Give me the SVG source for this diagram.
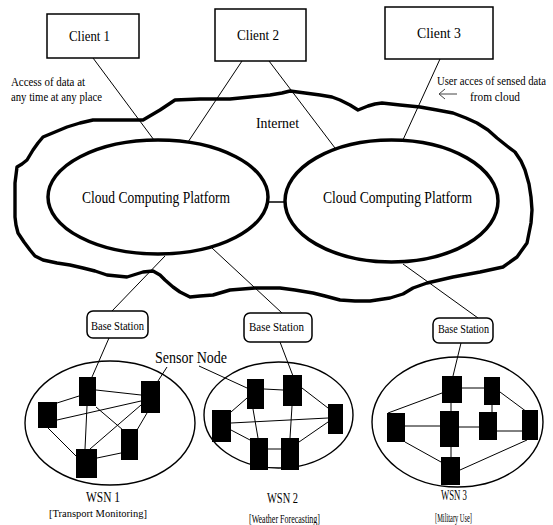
<svg xmlns="http://www.w3.org/2000/svg" width="553" height="525" viewBox="0 0 553 525">
<defs>
<style>
text{font-family:"Liberation Serif","Times New Roman",serif;fill:#000}
.box{fill:#fff;stroke:#000;stroke-width:1.5}
.bs{fill:#fff;stroke:#000;stroke-width:1.5}
.cloud{fill:none;stroke:#000;stroke-width:3.4;stroke-linejoin:round;stroke-linecap:round}
.plat{fill:none;stroke:#000;stroke-width:3.5}
.wsn{fill:none;stroke:#000;stroke-width:1.4}
.sensor{fill:#000}
.ln{stroke:#000;stroke-width:1;fill:none}
.net{stroke:#000;stroke-width:1.5;fill:none}
.arr{stroke:#444;stroke-width:1;fill:none}
</style>
</defs>
<rect width="553" height="525" fill="#fff"/>

<g id="internet-cloud">
<path class="cloud" d="M143,120 L160,110 L175,100 L200,99 L230,99 L250,97 L270,95 L282,93 L290,91 L305,93 L320,95 L332,97 L340,100 L350,105 L358,110 L363,108 L368,106 L375,104 L382,103 L400,105 L420,107 L437,110 L453,113 L466,118 L477,123 L488,130 L497,138 L507,146 L515,152 L521,161 L525,170 L529,184 L531,197 L532,210 L531,223 L527,243 L517,257 L503,267 L480,272 L453,277 L427,283 L413,288 L403,294 L390,298 L370,301 L355,301 L340,300 L325,296 L313,293 L295,290 L280,288 L255,288 L230,290 L213,295 L200,296 L190,297 L180,292 L173,287 L165,280 L160,275 L153,271 L143,272 L127,277 L107,275 L95,271 L83,268 L70,265 L57,263 L43,260 L35,256 L30,250 L24,242 L18,233 L16,225 L15,217 L15,200 L15,183 L17,167 L22,164 L27,160 L30,155 L33,150 L38,143 L43,137 L55,132 L67,127 L80,123 L93,120 Z"/>
<text x="256" y="128" font-size="14" textLength="43" lengthAdjust="spacingAndGlyphs">Internet</text>
</g>

<g id="connectors">
<line class="ln" x1="93" y1="58" x2="154" y2="140"/>
<line class="ln" x1="242" y1="61" x2="188" y2="142"/>
<line class="ln" x1="269" y1="61" x2="335" y2="148"/>
<line class="ln" x1="440" y1="59" x2="402" y2="142"/>
<line class="net" x1="268" y1="202" x2="285" y2="202"/>
<line class="ln" x1="165" y1="256" x2="112" y2="311"/>
<line class="ln" x1="212" y1="248" x2="282" y2="313"/>
<line class="ln" x1="403" y1="264" x2="478" y2="318"/>
<line class="ln" x1="109" y1="338" x2="92" y2="377"/>
<line class="ln" x1="280" y1="342" x2="293" y2="376"/>
<line class="ln" x1="461" y1="343" x2="453" y2="376"/>
<line class="ln" x1="167" y1="367" x2="158" y2="381"/>
<line class="ln" x1="199" y1="366" x2="247" y2="388"/>
</g>

<g id="client1">
<rect class="box" x="47" y="14" width="92" height="44"/>
<text x="69" y="41" font-size="15" textLength="41" lengthAdjust="spacingAndGlyphs">Client 1</text>
</g>
<g id="client2">
<rect class="box" x="215" y="9" width="91" height="52"/>
<text x="237" y="39.5" font-size="15" textLength="42" lengthAdjust="spacingAndGlyphs">Client 2</text>
</g>
<g id="client3">
<rect class="box" x="385" y="7" width="108" height="52"/>
<text x="417" y="38" font-size="15" textLength="44" lengthAdjust="spacingAndGlyphs">Client 3</text>
</g>

<g id="note-left">
<text x="11" y="86" font-size="12" textLength="74" lengthAdjust="spacingAndGlyphs">Access of data at</text>
<text x="11" y="101" font-size="12" textLength="91" lengthAdjust="spacingAndGlyphs">any time at any place</text>
</g>
<g id="note-right">
<text x="437" y="85" font-size="11.5" textLength="109" lengthAdjust="spacingAndGlyphs">User acces of sensed data</text>
<text x="470" y="101" font-size="12" textLength="50" lengthAdjust="spacingAndGlyphs">from cloud</text>
<path class="arr" d="M457,94 L439,94 M445,89 L439,94 L445,99"/>
</g>

<g id="platform1">
<ellipse class="plat" cx="158" cy="197" rx="110" ry="57"/>
<text x="82" y="203" font-size="16" textLength="148" lengthAdjust="spacingAndGlyphs">Cloud Computing Platform</text>
</g>
<g id="platform2">
<ellipse class="plat" cx="391.5" cy="201" rx="106.5" ry="61"/>
<text x="323" y="203" font-size="16" textLength="149" lengthAdjust="spacingAndGlyphs">Cloud Computing Platform</text>
</g>

<g id="bs1">
<rect class="bs" x="87" y="311" width="61" height="27" rx="6"/>
<text x="91" y="330" font-size="11.5" textLength="53" lengthAdjust="spacingAndGlyphs">Base Station</text>
</g>
<g id="bs2">
<rect class="bs" x="244" y="313" width="68" height="29" rx="6"/>
<text x="249" y="331" font-size="11.5" textLength="55" lengthAdjust="spacingAndGlyphs">Base Station</text>
</g>
<g id="bs3">
<rect class="bs" x="433" y="318" width="60" height="25" rx="6"/>
<text x="438" y="333" font-size="11.5" textLength="51" lengthAdjust="spacingAndGlyphs">Base Station</text>
</g>

<g id="sensor-node-label">
<text x="155" y="363" font-size="16" textLength="72" lengthAdjust="spacingAndGlyphs">Sensor Node</text>
</g>

<g id="wsn1">
<ellipse class="wsn" cx="110" cy="423" rx="85" ry="62"/>
<g class="ln">
<line x1="96" y1="390" x2="141" y2="395"/>
<line x1="79" y1="396" x2="57" y2="403"/>
<line x1="57" y1="420" x2="141" y2="401"/>
<line x1="87" y1="406" x2="85" y2="449"/>
<line x1="96" y1="407" x2="123" y2="430"/>
<line x1="141" y1="405" x2="90" y2="449"/>
<line x1="147" y1="413" x2="137" y2="430"/>
<line x1="48" y1="428" x2="77" y2="457"/>
<line x1="121" y1="453" x2="97" y2="458"/>
</g>
<rect class="sensor" x="79" y="377" width="17" height="29"/>
<rect class="sensor" x="141" y="381" width="19" height="32"/>
<rect class="sensor" x="38" y="402" width="19" height="26"/>
<rect class="sensor" x="121" y="429" width="17" height="31"/>
<rect class="sensor" x="76" y="449" width="21" height="29"/>
<text x="86" y="502" font-size="14" textLength="34" lengthAdjust="spacingAndGlyphs">WSN 1</text>
<text x="49" y="517" font-size="11" textLength="98" lengthAdjust="spacingAndGlyphs">[Transport Monitoring]</text>
</g>

<g id="wsn2">
<ellipse class="wsn" cx="278.5" cy="415" rx="74.5" ry="53"/>
<g class="ln">
<line x1="264" y1="389" x2="283" y2="390"/>
<line x1="247" y1="398" x2="231" y2="412"/>
<line x1="253" y1="409" x2="258" y2="438"/>
<line x1="302" y1="388" x2="328" y2="408"/>
<line x1="292" y1="406" x2="290" y2="438"/>
<line x1="231" y1="423" x2="328" y2="418"/>
<line x1="231" y1="430" x2="250" y2="440"/>
<line x1="268" y1="449" x2="281" y2="449"/>
<line x1="299" y1="442" x2="328" y2="422"/>
</g>
<rect class="sensor" x="247" y="379" width="17" height="30"/>
<rect class="sensor" x="283" y="375" width="19" height="31"/>
<rect class="sensor" x="212" y="410" width="19" height="32"/>
<rect class="sensor" x="328" y="404" width="15" height="30"/>
<rect class="sensor" x="250" y="438" width="18" height="32"/>
<rect class="sensor" x="281" y="438" width="18" height="32"/>
<text x="267" y="503" font-size="15" textLength="31" lengthAdjust="spacingAndGlyphs">WSN 2</text>
<text x="249" y="523" font-size="11.5" textLength="71" lengthAdjust="spacingAndGlyphs">[Weather Forecasting]</text>
</g>

<g id="wsn3">
<ellipse class="wsn" cx="457.5" cy="422" rx="85.5" ry="65"/>
<g class="ln">
<line x1="462" y1="388" x2="484" y2="388"/>
<line x1="442" y1="393" x2="388" y2="413"/>
<line x1="451" y1="403" x2="451" y2="411"/>
<line x1="492" y1="405" x2="492" y2="412"/>
<line x1="500" y1="392" x2="527" y2="412"/>
<line x1="405" y1="426" x2="440" y2="426"/>
<line x1="459" y1="427" x2="479" y2="427"/>
<line x1="497" y1="431" x2="522" y2="431"/>
<line x1="451" y1="447" x2="451" y2="457"/>
<line x1="405" y1="442" x2="441" y2="462"/>
<line x1="527" y1="440" x2="460" y2="470"/>
</g>
<rect class="sensor" x="442" y="376" width="20" height="27"/>
<rect class="sensor" x="484" y="377" width="16" height="28"/>
<rect class="sensor" x="387" y="413" width="18" height="29"/>
<rect class="sensor" x="440" y="411" width="19" height="36"/>
<rect class="sensor" x="479" y="412" width="18" height="28"/>
<rect class="sensor" x="522" y="410" width="16" height="30"/>
<rect class="sensor" x="441" y="457" width="19" height="28"/>
<text x="441" y="500" font-size="15" textLength="26" lengthAdjust="spacingAndGlyphs">WSN 3</text>
<text x="435" y="522" font-size="11.5" textLength="37" lengthAdjust="spacingAndGlyphs">[Military Use]</text>
</g>
</svg>
